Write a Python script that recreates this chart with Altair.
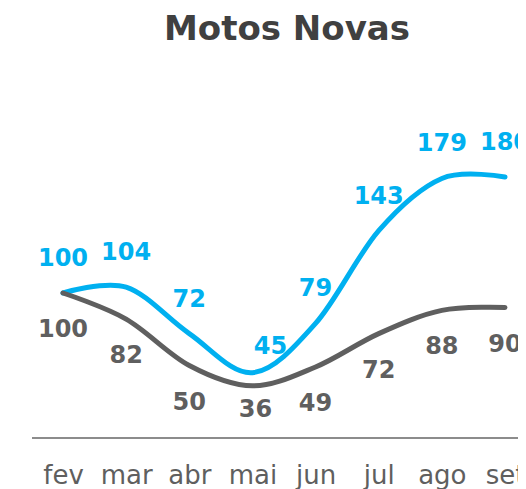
import altair as alt
import pandas as pd

months = ["fev", "mar", "abr", "mai", "jun", "jul", "ago", "set"]
novas_blue = [100, 104, 72, 45, 79, 143, 179, 180]
novas_gray = [100, 82, 50, 36, 49, 72, 88, 90]
series_names = ["azul", "cinza"]
title_text = "Motos Novas"

BLUE = "#00B0F0"
GRAY = "#5F5F5F"
FONT = "DejaVu Sans"

rows = []
for i, m in enumerate(months):
    rows.append({"mes": m, "serie": series_names[0], "valor": novas_blue[i]})
    rows.append({"mes": m, "serie": series_names[1], "valor": novas_gray[i]})
df = pd.DataFrame(rows)

W, H = 486, 290

x = alt.X("mes:N", sort=months,
          scale=alt.Scale(range=[31, 473], padding=0),
          axis=alt.Axis(title=None, domain=False, ticks=False, labelAngle=0,
                        labelFont=FONT, labelFontSize=26, labelColor=GRAY,
                        labelPadding=24, grid=False))
y = alt.Y("valor:Q", scale=alt.Scale(domain=[0, 200]), axis=None)
color = alt.Color("serie:N", scale=alt.Scale(domain=series_names, range=[BLUE, GRAY]),
                  legend=None)

base = alt.Chart(df).encode(x=x, y=y, color=color)

lines = base.mark_line(interpolate="cardinal", tension=0, strokeWidth=5, strokeCap="round")

txt = dict(font=FONT, fontSize=24, fontWeight="bold")
blue_lbl = base.transform_filter(
    (alt.datum.serie == series_names[0]) & (alt.datum.mes != "mai")
).mark_text(dy=-34, **txt).encode(text="valor:Q")
blue_mai = base.transform_filter(
    (alt.datum.serie == series_names[0]) & (alt.datum.mes == "mai")
).mark_text(dx=18, dy=-26, **txt).encode(text="valor:Q")
gray_lbl = base.transform_filter(
    (alt.datum.serie == series_names[1]) & (alt.datum.mes != "mai")
).mark_text(dy=37, **txt).encode(text="valor:Q")
gray_mai = base.transform_filter(
    (alt.datum.serie == series_names[1]) & (alt.datum.mes == "mai")
).mark_text(dx=3, dy=24, **txt).encode(text="valor:Q")

baseline = alt.Chart(df).mark_rule(color="#8C8C8C", strokeWidth=2).encode(
    x=alt.value(0), x2=alt.value(W), y=alt.value(H))

chart = alt.layer(baseline, lines, blue_lbl, blue_mai, gray_lbl, gray_mai).properties(
    width=W, height=H,
    title=alt.TitleParams(title_text, font=FONT, fontSize=34, fontWeight="bold",
                          color="#404040", anchor="middle", frame="group",
                          offset=84, dx=12),
    autosize=alt.AutoSizeParams(type="none"),
    padding={"left": 24, "top": 140, "right": 0, "bottom": 51},
).configure_view(stroke=None)

chart.save("out.html", embed_options={"renderer": "svg", "actions": False})
